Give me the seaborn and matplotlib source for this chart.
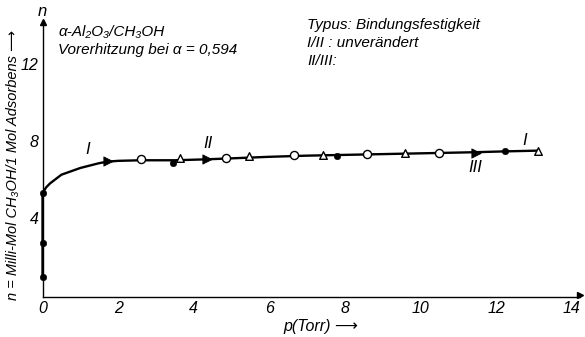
import matplotlib
matplotlib.use("Agg")
import matplotlib.pyplot as plt
import seaborn as sns
import pandas as pd

# ---- data ----
curve_p = [0, 0, 0, 0.1, 0.2, 0.5, 1.0, 1.5, 1.73, 2.0, 2.6, 3.5, 4.35, 5.0, 6.0, 7.0, 8.0, 9.0, 10.0, 11.0, 11.47, 12.2, 13.11]
curve_n = [0.94, 2.7, 5.3, 5.6, 5.8, 6.25, 6.6, 6.85, 6.93, 6.97, 7.0, 7.0, 7.05, 7.1, 7.18, 7.24, 7.28, 7.32, 7.36, 7.4, 7.42, 7.46, 7.5]

filled_p = [0, 0, 0, 3.45, 7.79, 12.24]
filled_n = [0.94, 2.7, 5.3, 6.88, 7.2, 7.48]

open_circ_p = [2.61, 4.85, 6.66, 8.58, 10.49]
open_circ_n = [7.08, 7.13, 7.27, 7.32, 7.4]

open_tri_p = [3.64, 5.46, 7.42, 9.59, 13.11]
open_tri_n = [7.1, 7.2, 7.27, 7.38, 7.5]

arrow_p = [1.73, 4.35, 11.47]
arrow_n = [6.95, 7.05, 7.38]

branch_labels = ["I", "II", "I", "III"]
branch_p = [1.2, 4.38, 12.76, 11.45]
branch_n = [7.55, 7.85, 8.05, 6.65]

xticks = [0, 2, 4, 6, 8, 10, 12, 14]
yticks = [4, 8, 12]

sns.set_style("white")
plt.rcParams['font.family'] = ['Liberation Sans', 'DejaVu Sans']
plt.rcParams['font.style'] = 'italic'
plt.rcParams['text.color'] = 'black'
plt.rcParams['xtick.color'] = 'black'
plt.rcParams['ytick.color'] = 'black'

FS = 11

fig = plt.figure(figsize=(5.85, 3.37), dpi=100)
ax = fig.add_axes([42.5 / 585, 40 / 337, (580 - 42.5) / 585, (297 - 22) / 337])

curve = pd.DataFrame({"p": curve_p, "n": curve_n})
sns.lineplot(data=curve, x="p", y="n", sort=False, estimator=None, color="black", lw=1.7, ax=ax, zorder=4)
for ln in ax.lines:
    ln.set_clip_on(False)

sns.scatterplot(x=filled_p, y=filled_n, marker="o", s=22, color="black", edgecolor="black", ax=ax, zorder=5, clip_on=False)
sns.scatterplot(x=open_circ_p, y=open_circ_n, marker="o", s=34, color="white", edgecolor="black", linewidth=1.0, ax=ax, zorder=5)
sns.scatterplot(x=open_tri_p, y=open_tri_n, marker="^", s=30, color="white", edgecolor="black", linewidth=1.0, ax=ax, zorder=5)
sns.scatterplot(x=arrow_p, y=arrow_n, marker=">", s=45, color="black", edgecolor="black", ax=ax, zorder=5)

for lab, px, py in zip(branch_labels, branch_p, branch_n):
    ax.text(px, py, lab, fontsize=FS + 1, ha="center", va="center", style="italic")

ax.set_xlim(0, 14.22)
ax.set_ylim(-0.1, 14.18)
ax.set_xticks(xticks)
ax.set_yticks(yticks)
ax.set_xticklabels([str(t) for t in xticks], fontsize=FS + 0.5, style="italic")
ax.set_yticklabels([str(t) for t in yticks], fontsize=FS + 0.5, style="italic")
ax.tick_params(axis="both", direction="in", length=4, width=0.8, color="black")
ax.tick_params(axis="x", pad=3)
ax.tick_params(axis="y", pad=3)
for s in ["top", "right"]:
    ax.spines[s].set_visible(False)
for s in ["left", "bottom"]:
    ax.spines[s].set_color("black")
    ax.spines[s].set_linewidth(1.0)
ax.set_xlabel("")
ax.set_ylabel("")

# axis arrow heads
ax.plot(1, 0, ">", transform=ax.get_yaxis_transform(), color="black", ms=4, clip_on=False)
ax.plot(0, 1, "^", transform=ax.get_xaxis_transform(), color="black", ms=4, clip_on=False)

ax.text(0, 1.01, "n", transform=ax.get_xaxis_transform(), fontsize=FS + 1, ha="center", va="bottom")

fig.text(58 / 585, 1 - 32 / 337, "α-Al₂O₃/CH₃OH", fontsize=FS, ha="left", va="center", style="italic")
fig.text(58 / 585, 1 - 50 / 337, "Vorerhitzung bei α = 0,594", fontsize=FS, ha="left", va="center", style="italic")
fig.text(307 / 585, 1 - 25 / 337, "Typus: Bindungsfestigkeit", fontsize=FS, ha="left", va="center", style="italic")
fig.text(307 / 585, 1 - 43 / 337, "I/II : unverändert", fontsize=FS, ha="left", va="center", style="italic")
fig.text(307 / 585, 1 - 61 / 337, "II/III:", fontsize=FS, ha="left", va="center", style="italic")

fig.text(321 / 585, 1 - 326 / 337, "p(Torr) ⟶", fontsize=FS + 0.5, ha="center", va="center", style="italic")
fig.text(13 / 585, 1 - 165 / 337, "n = Milli-Mol CH₃OH/1 Mol Adsorbens ⟶", fontsize=FS - 0.5, rotation=90,
         ha="center", va="center", style="italic")

fig.savefig("out.png", dpi=100)
